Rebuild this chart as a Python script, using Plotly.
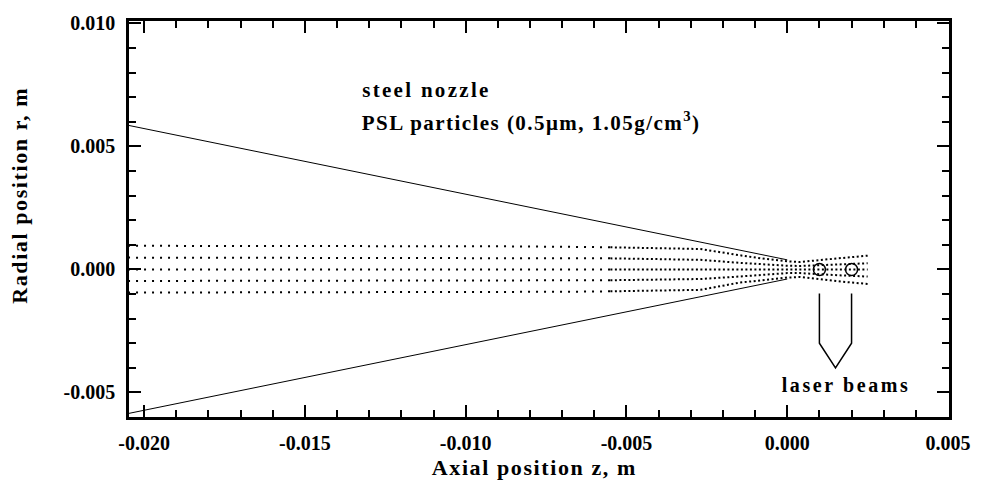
import plotly.graph_objects as go

# ---- data ----
x_tickvals = [-0.020, -0.015, -0.010, -0.005, 0.000, 0.005]
x_ticktext = ["-0.020", "-0.015", "-0.010", "-0.005", "0.000", "0.005"]
y_tickvals = [-0.005, 0.000, 0.005, 0.010]
y_ticktext = ["-0.005", "0.000", "0.005", "0.010"]

# nozzle wall (straight cone)
nozzle_z = [-0.0205, 0.0]
nozzle_upper_r = [0.00586, 0.00039]
nozzle_lower_r = [-0.00586, -0.00039]

# particle trajectories (z positions shared)
traj_z = [-0.0205, -0.018, -0.015, -0.012, -0.009, -0.007, -0.0055, -0.004,
          -0.0027, -0.0015, -0.0007, 0.0, 0.0004, 0.001, 0.0018, 0.0025]
traj_outer_up = [0.00096, 0.00096, 0.00096, 0.00095, 0.00094, 0.00092, 0.00090, 0.00087,
                 0.00083, 0.00058, 0.00043, 0.00033, 0.00030, 0.00038, 0.00048, 0.00056]
traj_inner_up = [0.00048, 0.00048, 0.00048, 0.00048, 0.00047, 0.00046, 0.00045, 0.00043,
                 0.00039, 0.00027, 0.00020, 0.00015, 0.00014, 0.00018, 0.00022, 0.00025]
traj_center = [0.0, 0.0, 0.0, 0.0, 0.0, 0.0, 0.0, 0.0,
               0.0, 0.0, 0.0, 0.0, 0.0, 0.0, 0.0, 0.0]
traj_inner_lo = [-0.00047, -0.00047, -0.00047, -0.00047, -0.00046, -0.00045, -0.00044, -0.00042,
                 -0.00039, -0.00029, -0.00021, -0.00015, -0.00015, -0.00020, -0.00025, -0.00029]
traj_outer_lo = [-0.00094, -0.00094, -0.00094, -0.00093, -0.00092, -0.00091, -0.00089, -0.00086,
                 -0.00083, -0.00054, -0.00042, -0.00033, -0.00031, -0.00040, -0.00051, -0.00059]

# laser beam positions
laser_z = [0.001, 0.002]
laser_r = [0.0, 0.0]

# laser beam pointer outline
pointer_z = [0.001, 0.001, 0.0015, 0.002, 0.002]
pointer_r = [-0.00098, -0.0030, -0.0040, -0.0030, -0.00098]

FONT = "Liberation Serif"
split = 6  # index where the trajectory dots become denser

fig = go.Figure()

for zz, rr in [(nozzle_z, nozzle_upper_r), (nozzle_z, nozzle_lower_r)]:
    fig.add_trace(go.Scatter(x=zz, y=rr, mode="lines",
                             line=dict(color="black", width=1), showlegend=False))

for rr in [traj_outer_up, traj_inner_up, traj_center, traj_inner_lo, traj_outer_lo]:
    fig.add_trace(go.Scatter(x=traj_z[:split + 1], y=rr[:split + 1], mode="lines",
                             line=dict(color="black", width=2, dash="2px,6px"),
                             showlegend=False))
    fig.add_trace(go.Scatter(x=traj_z[split:], y=rr[split:], mode="lines",
                             line=dict(color="black", width=2, dash="2px,2.5px"),
                             showlegend=False))

fig.add_trace(go.Scatter(x=laser_z, y=laser_r, mode="markers",
                         marker=dict(symbol="circle-open", size=12,
                                     line=dict(color="black", width=1.5), color="black"),
                         showlegend=False))

fig.add_trace(go.Scatter(x=pointer_z, y=pointer_r, mode="lines",
                         line=dict(color="black", width=1.5), showlegend=False))

axis_common = dict(
    showline=True, linecolor="black", linewidth=2.5, mirror="ticks",
    ticks="inside", ticklen=12, tickwidth=2, tickcolor="black",
    showgrid=False, zeroline=False, tickmode="array",
    tickfont=dict(family=FONT, size=20, color="black", weight="bold"),
    minor=dict(tickmode="linear", tick0=0, dtick=0.001, ticks="inside",
               ticklen=7, tickwidth=2, tickcolor="black", showgrid=False),
)

fig.update_xaxes(range=[-0.02047, 0.00503], tickvals=x_tickvals, ticktext=x_ticktext,
                 ticklabelstandoff=6, **axis_common)
fig.update_yaxes(range=[-0.0060, 0.0101], tickvals=y_tickvals, ticktext=y_ticktext,
                 ticklabelstandoff=7, **axis_common)

fig.add_annotation(x=-0.01123, y=0.00728, xref="x", yref="y", text="<b>steel nozzle</b>",
                   showarrow=False, xanchor="center", yanchor="middle",
                   font=dict(family=FONT, size=21, color="black"))
fig.add_annotation(x=-0.00797, y=0.00600, xref="x", yref="y",
                   text="<b>PSL particles (0.5\u03bcm, 1.05g/cm<sup>3</sup>)</b>",
                   showarrow=False, xanchor="center", yanchor="middle",
                   font=dict(family=FONT, size=21, color="black"))
fig.add_annotation(x=0.00183, y=-0.0047, xref="x", yref="y", text="<b>laser beams</b>",
                   showarrow=False, xanchor="center", yanchor="middle",
                   font=dict(family=FONT, size=20, color="black"))

# axis titles
fig.add_annotation(x=0.4945, y=-0.127, xref="paper", yref="paper",
                   text="<b>Axial position z, m</b>", showarrow=False,
                   xanchor="center", yanchor="middle",
                   font=dict(family=FONT, size=22, color="black"))
fig.add_annotation(x=-0.133, y=0.561, xref="paper", yref="paper",
                   text="<b>Radial position r, m</b>", showarrow=False, textangle=-90,
                   xanchor="center", yanchor="middle",
                   font=dict(family=FONT, size=22, color="black"))

fig.update_layout(
    width=983, height=480,
    margin=dict(l=129, r=33, t=16, b=63),
    paper_bgcolor="white", plot_bgcolor="white",
    showlegend=False,
)

post = (
    "document.body.style.margin='0';"
    "var _sp=['2.3px','1.45px','2.6px','1.6px','1.6px'];"
    "function _ls(){document.querySelectorAll('.annotation-text').forEach(function(e,i){"
    "e.style.letterSpacing=_sp[i]||'1.6px';});}"
    "_ls(); setTimeout(_ls, 0);"
)

fig.write_html("out.html", post_script=post, config={"displayModeBar": False})
